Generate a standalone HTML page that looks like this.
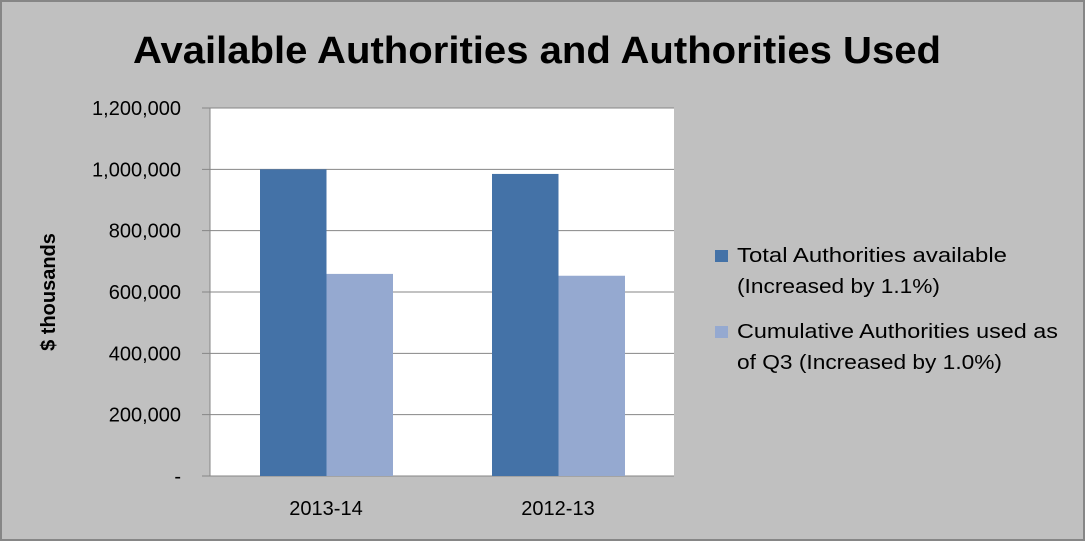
<!DOCTYPE html>
<html><head><meta charset="utf-8">
<style>
html,body{margin:0;padding:0;background:#c0c0c0;}
svg{display:block;font-family:"Liberation Sans",sans-serif;}
</style></head>
<body>
<svg id="chart" width="1085" height="541" viewBox="0 0 1085 541" xmlns="http://www.w3.org/2000/svg">
<rect x="1" y="1" width="1083" height="539" fill="#c0c0c0" stroke="#868686" stroke-width="2"/>
<text x="537" y="63" text-anchor="middle" font-size="38" font-weight="bold" fill="#000" textLength="808" lengthAdjust="spacingAndGlyphs">Available Authorities and Authorities Used</text>
<rect x="210" y="108" width="464" height="368" fill="#fff"/>
<g id="grid"></g>
<g id="bars"></g>
<g id="ylabels"></g>
<g id="xlabels"></g>
<text transform="translate(55,292) rotate(-90)" text-anchor="middle" font-size="20" font-weight="bold">$ thousands</text>
<g>
<rect x="715" y="250" width="13" height="12" fill="#4472a7"/>
<text x="737" y="262" font-size="20" textLength="270" lengthAdjust="spacingAndGlyphs">Total Authorities available</text>
<text x="737" y="293" font-size="20" textLength="203" lengthAdjust="spacingAndGlyphs">(Increased by 1.1%)</text>
<rect x="715" y="326" width="13" height="12" fill="#95a9d0"/>
<text x="737" y="338" font-size="20" textLength="321" lengthAdjust="spacingAndGlyphs">Cumulative Authorities used as</text>
<text x="737" y="369" font-size="20" textLength="265" lengthAdjust="spacingAndGlyphs">of Q3 (Increased by 1.0%)</text>
</g>
</svg>
<script>
const categories = ["2013-14", "2012-13"];
const totalAvailable = [1000000, 985000];
const usedQ3 = [659000, 653000];
const yTicks = [0, 200000, 400000, 600000, 800000, 1000000, 1200000];
const yTickLabels = ["-", "200,000", "400,000", "600,000", "800,000", "1,000,000", "1,200,000"];

const NS = "http://www.w3.org/2000/svg";
const X0 = 210, X1 = 674, Y0 = 476, Y1 = 108, YMAX = 1200000;
function yScale(v){ return Y0 - (v / YMAX) * (Y0 - Y1); }
const catW = (X1 - X0) / categories.length;
function catX(i){ return X0 + i * catW; }
function mk(tag, attrs, parent){ const e = document.createElementNS(NS, tag); for (const k in attrs) e.setAttribute(k, attrs[k]); parent.appendChild(e); return e; }

const grid = document.getElementById('grid');
const yl = document.getElementById('ylabels');
yTicks.forEach((t, i) => {
  const y = yScale(t);
  const ln = mk('line', {x1: 202, x2: X1, y1: y, y2: y, stroke: '#868686', 'stroke-width': 1}, grid);
  
  
  const tx = mk('text', {x: 181, y: y + 7, 'text-anchor': 'end', 'font-size': 20}, yl);
  
  
  tx.textContent = yTickLabels[i];
});
const ax = mk('line', {x1: X0, x2: X0, y1: Y1, y2: Y0, stroke: '#868686', 'stroke-width': 1}, grid);



const bars = document.getElementById('bars');
const xl = document.getElementById('xlabels');
const bw = 66.5;
categories.forEach((c, i) => {
  const start = catX(i) + 50;
  const y1 = yScale(totalAvailable[i]);
  const b1 = mk('rect', {x: start, y: y1, width: bw, height: Y0 - y1, fill: '#4472a7'}, bars);
  
  
  const y2 = yScale(usedQ3[i]);
  const b2 = mk('rect', {x: start + bw, y: y2, width: bw, height: Y0 - y2, fill: '#95a9d0'}, bars);
  
  
  const tx = mk('text', {x: catX(i) + catW / 2, y: 515, 'text-anchor': 'middle', 'font-size': 20}, xl);
  
  
  tx.textContent = c;
});
const bx = mk('line', {x1: X0, x2: X1, y1: Y0, y2: Y0, stroke: '#868686', 'stroke-width': 1}, grid);


</script>
</body></html>
